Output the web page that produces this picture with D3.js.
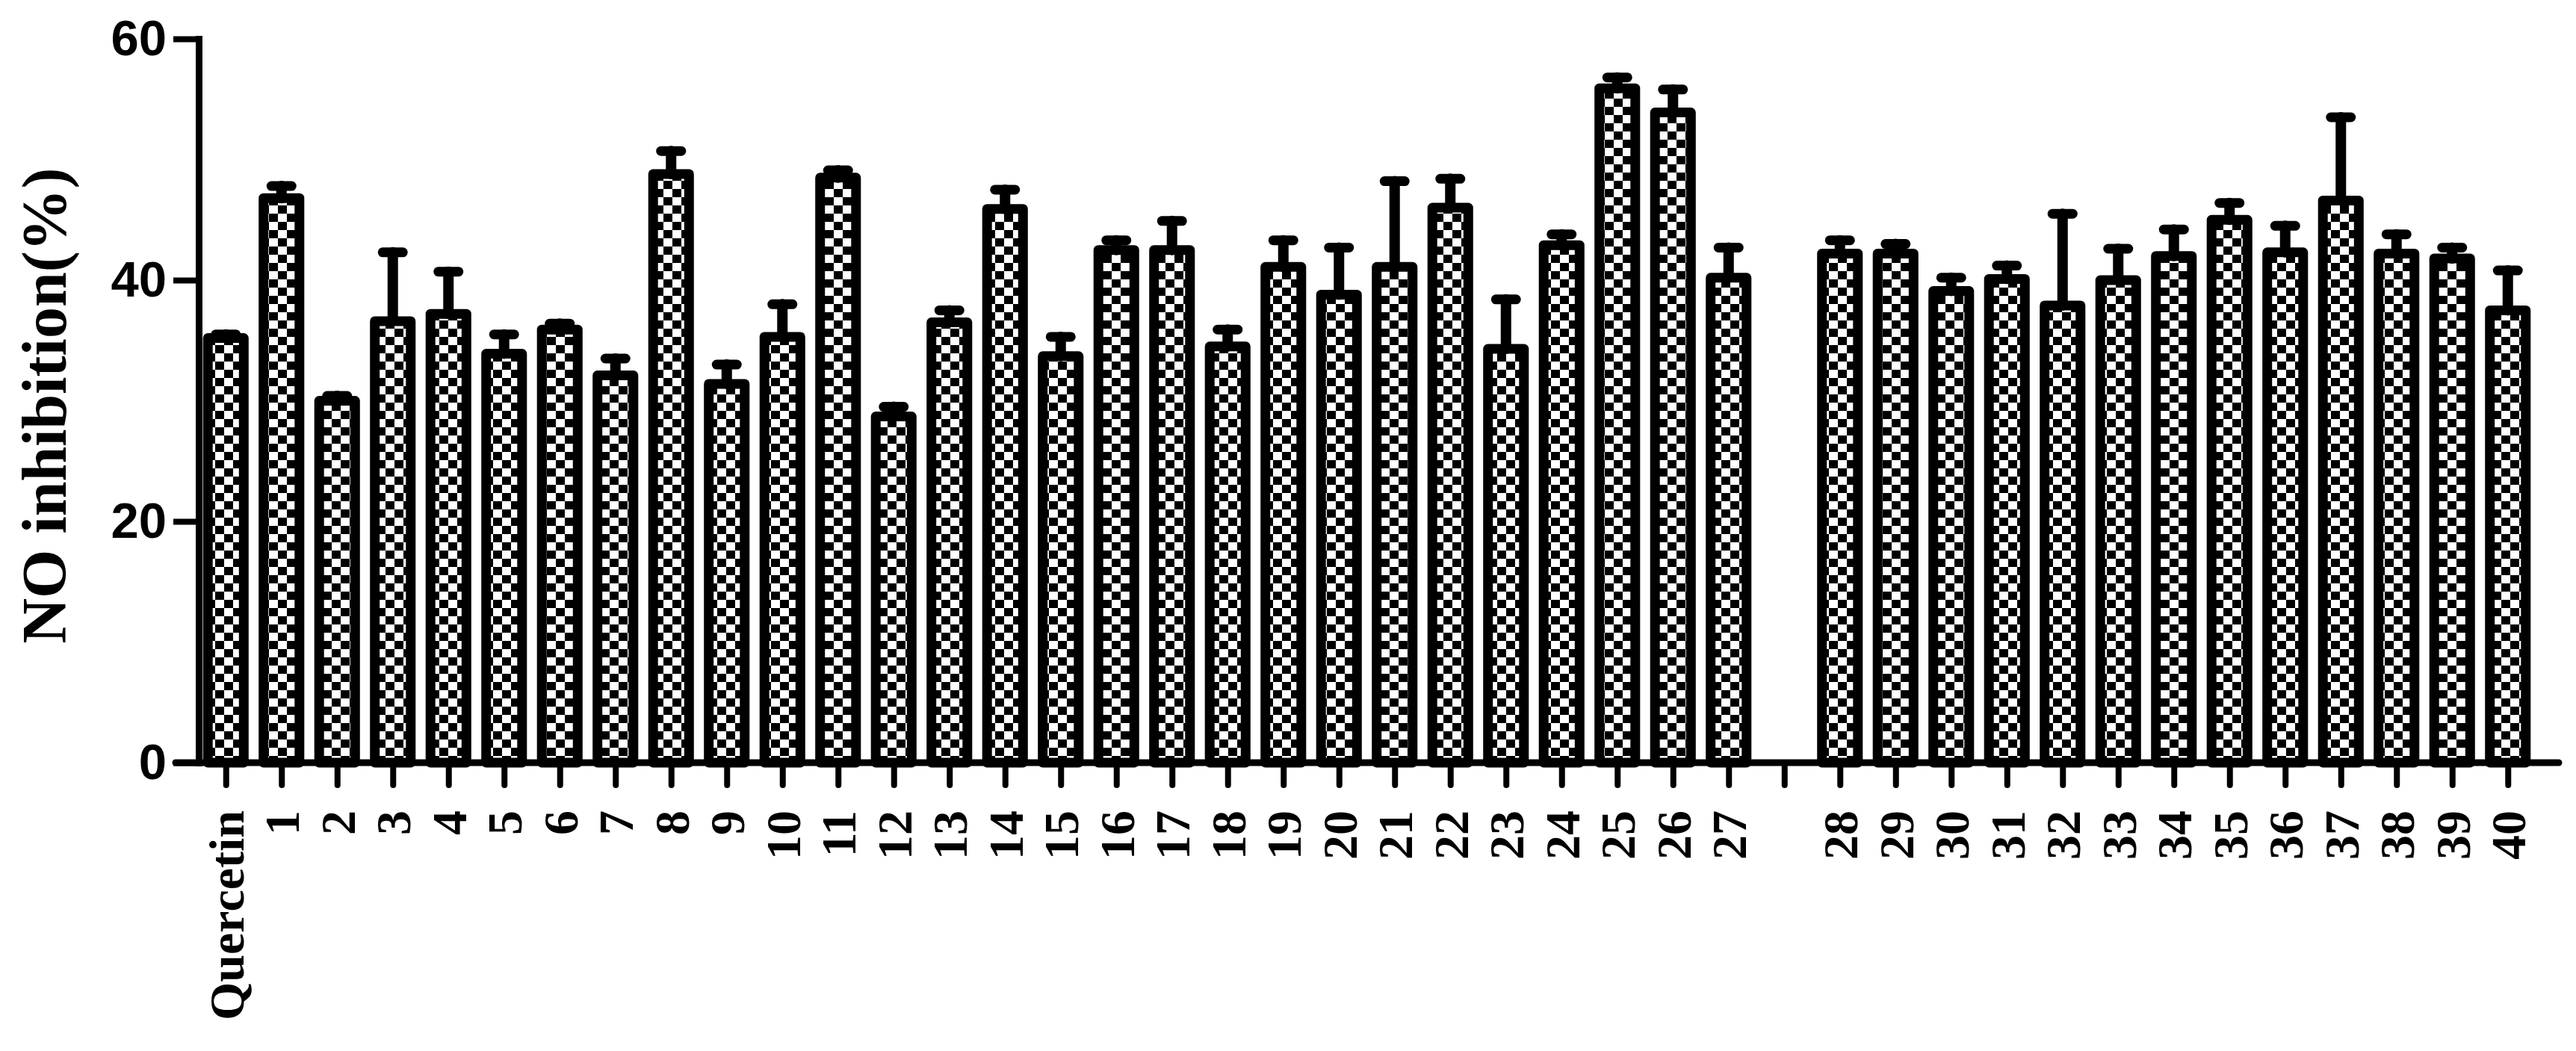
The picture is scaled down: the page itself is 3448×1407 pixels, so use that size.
<!DOCTYPE html>
<html>
<head>
<meta charset="utf-8">
<script src="https://cdn.jsdelivr.net/npm/d3@7"></script>
<style>
  body { margin: 0; background: #fff; }
  svg { display: block; }
</style>
</head>
<body>
<svg id="chart"></svg>
<script>
// compounds, with an empty slot between 27 and 28
var categories = ['Quercetin', '1', '2', '3', '4', '5', '6', '7', '8', '9', '10',
  '11', '12', '13', '14', '15', '16', '17', '18', '19', '20',
  '21', '22', '23', '24', '25', '26', '27', 'gap',
  '28', '29', '30', '31', '32', '33', '34', '35', '36', '37', '38', '39', '40'];

// NO inhibition (%) mean and SD
var means = [35.2, 46.8, 30.0, 36.6, 37.2, 33.9, 35.9, 32.1, 48.8, 31.4, 35.3,
  48.5, 28.7, 36.5, 45.9, 33.7, 42.5, 42.5, 34.5, 41.1, 38.8,
  41.1, 46.0, 34.3, 42.9, 55.9, 53.9, 40.2, null,
  42.2, 42.2, 39.1, 40.1, 37.9, 40.0, 42.0, 45.0, 42.3, 46.6, 42.2, 41.8, 37.5];
var errors = [0.3, 1.0, 0.4, 5.7, 3.5, 1.6, 0.5, 1.4, 1.9, 1.6, 2.7,
  0.6, 0.8, 1.0, 1.6, 1.6, 0.8, 2.4, 1.4, 2.2, 3.9,
  7.1, 2.4, 4.1, 0.9, 0.9, 1.9, 2.5, null,
  1.1, 0.8, 1.1, 1.1, 7.6, 2.6, 2.2, 1.4, 2.2, 6.9, 1.6, 0.9, 3.3];

var yTicks = [0, 20, 40, 60];
var yTitle = 'NO inhibition(%)';

var width = 3448, height = 1407;
var xLeft = 265, xRight = 3394;
var yBottom = 1021, yTop = 52;

var rows = categories.map(function(c, i){
  return {cat: c, mean: means[i], err: errors[i]};
});

var svg = d3.select('#chart')
  .attr('width', width)
  .attr('height', height);

// checker fill used inside every bar
var defs = svg.append('defs');
var pat = defs.append('pattern')
  .attr('id', 'checker')
  .attr('patternUnits', 'userSpaceOnUse')
  .attr('width', 24)
  .attr('height', 22);
pat.append('rect').attr('width', 24).attr('height', 22).attr('fill', '#fff');
pat.append('rect').attr('x', 0).attr('y', 0).attr('width', 12).attr('height', 11).attr('fill', '#000');
pat.append('rect').attr('x', 12).attr('y', 11).attr('width', 12).attr('height', 11).attr('fill', '#000');

var x = d3.scalePoint()
  .domain(categories)
  .range([xLeft, xRight])
  .padding(0.5);

var y = d3.scaleLinear()
  .domain([0, 60])
  .range([yBottom, yTop]);

var barW = x.step() * 0.82;
var border = 13;

var data = rows.filter(function(d){ return d.mean !== null; });

// bars
svg.append('g').selectAll('rect')
  .data(data)
  .enter()
  .append('rect')
  .attr('x', function(d){ return x(d.cat) - barW / 2 + border / 2; })
  .attr('y', function(d){ return y(d.mean); })
  .attr('width', barW - border)
  .attr('height', function(d){ return y(0) - y(d.mean); })
  .attr('fill', 'url(#checker)')
  .attr('stroke', '#000')
  .attr('stroke-width', border)
  .attr('stroke-linejoin', 'round');

// error bars (upper only)
var eb = svg.append('g')
  .attr('stroke', '#000')
  .attr('stroke-linecap', 'round');

eb.selectAll('line.stem')
  .data(data)
  .enter()
  .append('line')
  .attr('class', 'stem')
  .attr('x1', function(d){ return x(d.cat); })
  .attr('x2', function(d){ return x(d.cat); })
  .attr('y1', function(d){ return y(d.mean); })
  .attr('y2', function(d){ return y(d.mean + d.err); })
  .attr('stroke-width', 14);

eb.selectAll('line.cap')
  .data(data)
  .enter()
  .append('line')
  .attr('class', 'cap')
  .attr('x1', function(d){ return x(d.cat) - 13.5; })
  .attr('x2', function(d){ return x(d.cat) + 13.5; })
  .attr('y1', function(d){ return y(d.mean + d.err); })
  .attr('y2', function(d){ return y(d.mean + d.err); })
  .attr('stroke-width', 13);

// y axis
var yAxis = svg.append('g')
  .attr('transform', 'translate(' + (xLeft + 1) + ',0)')
  .call(d3.axisLeft(y).tickValues(yTicks).tickSize(34).tickSizeOuter(0).tickPadding(9));

yAxis.select('.domain')
  .attr('stroke', '#000')
  .attr('stroke-width', 9)
  .attr('stroke-linecap', 'square');
yAxis.selectAll('.tick line')
  .attr('stroke', '#000')
  .attr('stroke-width', 8);
yAxis.selectAll('.tick text')
  .attr('fill', '#000')
  .style('font-family', '"Liberation Sans", Arial, sans-serif')
  .style('font-weight', 'bold')
  .style('font-size', '67px');

// x axis
var xAxis = svg.append('g')
  .attr('transform', 'translate(0,' + yBottom + ')')
  .call(d3.axisBottom(x).tickSize(30).tickSizeOuter(0)
    .tickFormat(function(d){ return d === 'gap' ? '' : d; }));

xAxis.select('.domain').remove();
xAxis.selectAll('.tick line')
  .attr('stroke', '#000')
  .attr('stroke-width', 8)
  .attr('stroke-linecap', 'round');
xAxis.selectAll('.tick text')
  .attr('fill', '#000')
  .attr('text-anchor', 'end')
  .attr('transform', 'translate(0,64) rotate(-90)')
  .attr('x', 0)
  .attr('y', 0)
  .attr('dy', '0.35em')
  .style('font-family', '"Liberation Serif", "Times New Roman", serif')
  .style('font-weight', 'bold')
  .style('font-size', '66px');

// baseline, running a little past the outer bars
svg.append('line')
  .attr('x1', 235)
  .attr('x2', 3425)
  .attr('y1', yBottom)
  .attr('y2', yBottom)
  .attr('stroke', '#000')
  .attr('stroke-width', 9)
  .attr('stroke-linecap', 'round');

// y title
svg.append('text')
  .attr('transform', 'translate(88,' + 543 + ') rotate(-90)')
  .attr('text-anchor', 'middle')
  .style('font-family', '"Liberation Serif", "Times New Roman", serif')
  .style('font-weight', 'bold')
  .style('font-size', '84px')
  .text(yTitle);
</script>
</body>
</html>
